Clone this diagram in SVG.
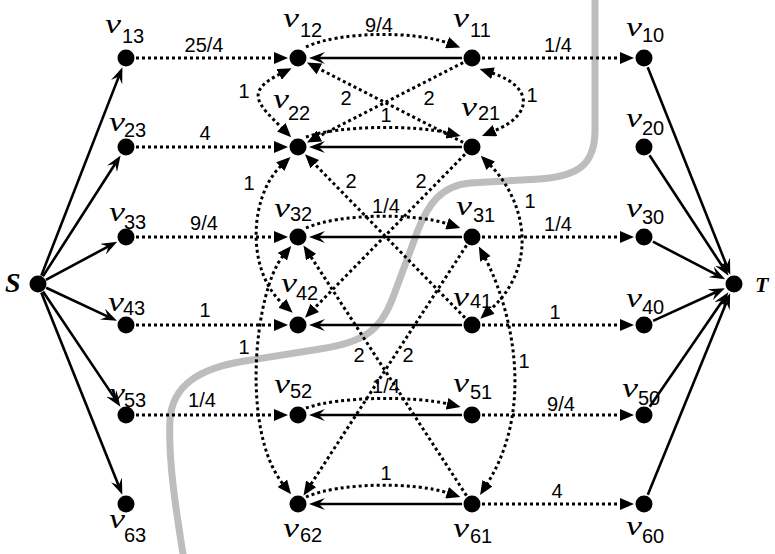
<svg xmlns="http://www.w3.org/2000/svg" width="775" height="554" viewBox="0 0 775 554">
<defs>
<style>
.dot{stroke:#000;stroke-width:3;stroke-dasharray:3 3;fill:none}
.sol{stroke:#000;stroke-width:2.6;fill:none}
.lbl{font-family:"Liberation Sans",Arial,sans-serif;font-size:20px;text-anchor:middle;fill:#000}
.v{font-family:"Liberation Serif","Times New Roman",serif;font-style:italic;font-size:28px}
.sub{font-family:"Liberation Sans",Arial,sans-serif;font-size:20px}
.big{font-family:"Liberation Serif","Times New Roman",serif;font-style:italic;font-weight:bold}
.cut{stroke:#bdbdbd;stroke-width:7;fill:none;stroke-linecap:round}
circle{fill:#000}
</style>
<marker id="tri" viewBox="0 0 14 12" refX="1" refY="6" markerWidth="14" markerHeight="12" markerUnits="userSpaceOnUse" orient="auto-start-reverse"><path d="M0,0 L14,6 L0,12 z"/></marker>
<marker id="barb" viewBox="0 0 16 12" refX="6" refY="6" markerWidth="16" markerHeight="12" markerUnits="userSpaceOnUse" orient="auto"><path d="M0,0 L16,6 L0,12 L6,6 z"/></marker>
</defs>
<rect width="775" height="554" fill="#fff"/>

<path class="cut" d="M595,0 L595,130 C595,165 578,176 540,179 L470,183 C440,186 428,205 418,230 L392,300 C380,330 365,342 320,349 L245,361 C200,368 172,385 170,420 C168,460 176,510 183,554"/>

<g id="connectors">
<line class="sol" x1="41.3" y1="275.6" x2="118.8" y2="76.6" marker-end="url(#barb)"/>
<line class="sol" x1="42.9" y1="276.4" x2="115.2" y2="163.8" marker-end="url(#barb)"/>
<line class="sol" x1="45.9" y1="279.8" x2="108.4" y2="246.4" marker-end="url(#barb)"/>
<line class="sol" x1="46.2" y1="287.8" x2="107.9" y2="316.6" marker-end="url(#barb)"/>
<line class="sol" x1="43.0" y1="291.5" x2="114.8" y2="398.4" marker-end="url(#barb)"/>
<line class="sol" x1="41.3" y1="292.4" x2="118.6" y2="485.4" marker-end="url(#barb)"/>
<line class="sol" x1="647.7" y1="67.3" x2="726.6" y2="265.4" marker-end="url(#barb)"/>
<line class="sol" x1="649.5" y1="155.3" x2="723.0" y2="267.3" marker-end="url(#barb)"/>
<line class="sol" x1="652.9" y1="241.6" x2="716.3" y2="274.7" marker-end="url(#barb)"/>
<line class="sol" x1="653.1" y1="320.9" x2="715.8" y2="292.3" marker-end="url(#barb)"/>
<line class="sol" x1="649.7" y1="406.8" x2="722.7" y2="300.5" marker-end="url(#barb)"/>
<line class="sol" x1="647.8" y1="494.7" x2="726.4" y2="302.5" marker-end="url(#barb)"/>
<line class="dot" x1="136" y1="58" x2="275" y2="58" marker-end="url(#tri)"/>
<line class="dot" x1="136" y1="147" x2="275" y2="147" marker-end="url(#tri)"/>
<line class="dot" x1="136" y1="237" x2="275" y2="237" marker-end="url(#tri)"/>
<line class="dot" x1="136" y1="325" x2="275" y2="325" marker-end="url(#tri)"/>
<line class="dot" x1="136" y1="415" x2="275" y2="415" marker-end="url(#tri)"/>
<line class="dot" x1="482" y1="58" x2="621" y2="58" marker-end="url(#tri)"/>
<line class="dot" x1="482" y1="237" x2="621" y2="237" marker-end="url(#tri)"/>
<line class="dot" x1="482" y1="325" x2="621" y2="325" marker-end="url(#tri)"/>
<line class="dot" x1="482" y1="415" x2="621" y2="415" marker-end="url(#tri)"/>
<line class="dot" x1="482" y1="504" x2="621" y2="504" marker-end="url(#tri)"/>
<line class="sol" x1="462" y1="58" x2="319" y2="58" marker-end="url(#barb)"/>
<line class="sol" x1="462" y1="147" x2="319" y2="147" marker-end="url(#barb)"/>
<line class="sol" x1="462" y1="237" x2="319" y2="237" marker-end="url(#barb)"/>
<line class="sol" x1="462" y1="325" x2="319" y2="325" marker-end="url(#barb)"/>
<line class="sol" x1="462" y1="415" x2="319" y2="415" marker-end="url(#barb)"/>
<line class="sol" x1="462" y1="504" x2="319" y2="504" marker-end="url(#barb)"/>
<path class="dot" d="M306,47 C340,31 415,31 448,43" marker-end="url(#tri)"/>
<path class="dot" d="M306,137 C340,125 415,125 448,133" marker-end="url(#tri)"/>
<path class="dot" d="M306,228 C340,213 415,213 448,224" marker-end="url(#tri)"/>
<path class="dot" d="M306,408 C340,396 415,396 448,404" marker-end="url(#tri)"/>
<path class="dot" d="M306,497 C340,482 415,482 448,493" marker-end="url(#tri)"/>
<line class="dot" x1="463.1" y1="142.4" x2="318.5" y2="68.5" marker-end="url(#tri)"/>
<line class="dot" x1="463.1" y1="62.6" x2="318.5" y2="136.5" marker-end="url(#tri)"/>
<line class="dot" x1="465.0" y1="317.8" x2="314.1" y2="163.5" marker-end="url(#tri)"/>
<line class="dot" x1="465.0" y1="154.2" x2="314.1" y2="308.5" marker-end="url(#tri)"/>
<line class="dot" x1="466.5" y1="495.6" x2="310.6" y2="256.3" marker-end="url(#tri)"/>
<line class="dot" x1="466.5" y1="245.4" x2="310.6" y2="484.7" marker-end="url(#tri)"/>
<path class="dot" d="M280,74 C244,92 258,104 282,128" marker-start="url(#tri)" marker-end="url(#tri)"/>
<path class="dot" d="M281,166 C250,195 245,270 283,304" marker-start="url(#tri)" marker-end="url(#tri)"/>
<path class="dot" d="M283,256 C255,290 240,430 283,484" marker-start="url(#tri)" marker-end="url(#tri)"/>
<path class="dot" d="M492,73 C532,86 535,114 494,131" marker-start="url(#tri)" marker-end="url(#tri)"/>
<path class="dot" d="M490,165 C525,200 540,265 490,310" marker-start="url(#tri)" marker-end="url(#tri)"/>
<path class="dot" d="M485,258 C505,295 540,400 487,484" marker-start="url(#tri)" marker-end="url(#tri)"/>
<text class="lbl" x="204" y="52">25/4</text>
<text class="lbl" x="205" y="140">4</text>
<text class="lbl" x="204" y="230">9/4</text>
<text class="lbl" x="205" y="317">1</text>
<text class="lbl" x="202" y="407">1/4</text>
<text class="lbl" x="558" y="52">1/4</text>
<text class="lbl" x="558" y="231">1/4</text>
<text class="lbl" x="555" y="319">1</text>
<text class="lbl" x="561" y="411">9/4</text>
<text class="lbl" x="557" y="498">4</text>
<text class="lbl" x="379" y="32">9/4</text>
<text class="lbl" x="386" y="122">1</text>
<text class="lbl" x="386" y="213">1/4</text>
<text class="lbl" x="386" y="393">1/4</text>
<text class="lbl" x="386" y="480">1</text>
<text class="lbl" x="346" y="105">2</text>
<text class="lbl" x="429" y="105">2</text>
<text class="lbl" x="351" y="188">2</text>
<text class="lbl" x="421" y="188">2</text>
<text class="lbl" x="359" y="362">2</text>
<text class="lbl" x="408" y="362">2</text>
<text class="lbl" x="244" y="98">1</text>
<text class="lbl" x="249" y="190">1</text>
<text class="lbl" x="244" y="354">1</text>
<text class="lbl" x="532" y="102">1</text>
<text class="lbl" x="530" y="208">1</text>
<text class="lbl" x="524" y="368">1</text>
</g>

<g id="S"><circle cx="38" cy="284" r="8.5"/><text class="big" x="5" y="292" font-size="28">S</text></g>
<g id="T"><circle cx="734" cy="284" r="8.5"/><text class="big" x="755" y="292" font-size="22">T</text></g>

<g id="v13"><circle cx="126" cy="58" r="8.5"/><text class="v" x="105" y="33" textLength="16" lengthAdjust="spacingAndGlyphs">v</text><text class="sub" x="122" y="43">13</text></g>
<g id="v23"><circle cx="126" cy="147" r="8.5"/><text class="v" x="109" y="131" textLength="16" lengthAdjust="spacingAndGlyphs">v</text><text class="sub" x="124" y="137">23</text></g>
<g id="v33"><circle cx="126" cy="237" r="8.5"/><text class="v" x="109" y="221" textLength="16" lengthAdjust="spacingAndGlyphs">v</text><text class="sub" x="124" y="229">33</text></g>
<g id="v43"><circle cx="126" cy="325" r="8.5"/><text class="v" x="108" y="311" textLength="16" lengthAdjust="spacingAndGlyphs">v</text><text class="sub" x="123" y="315">43</text></g>
<g id="v53"><circle cx="126" cy="415" r="8.5"/><text class="v" x="109" y="402" textLength="16" lengthAdjust="spacingAndGlyphs">v</text><text class="sub" x="124" y="407">53</text></g>
<g id="v63"><circle cx="126" cy="504" r="8.5"/><text class="v" x="109" y="528" textLength="16" lengthAdjust="spacingAndGlyphs">v</text><text class="sub" x="124" y="542">63</text></g>

<g id="v12"><circle cx="298" cy="58" r="8.5"/><text class="v" x="283" y="27" textLength="16" lengthAdjust="spacingAndGlyphs">v</text><text class="sub" x="300" y="37">12</text></g>
<g id="v22"><circle cx="298" cy="147" r="8.5"/><text class="v" x="273" y="108" textLength="16" lengthAdjust="spacingAndGlyphs">v</text><text class="sub" x="288" y="120">22</text></g>
<g id="v32"><circle cx="298" cy="237" r="8.5"/><text class="v" x="274" y="217" textLength="16" lengthAdjust="spacingAndGlyphs">v</text><text class="sub" x="290" y="221">32</text></g>
<g id="v42"><circle cx="298" cy="325" r="8.5"/><text class="v" x="281" y="292" textLength="16" lengthAdjust="spacingAndGlyphs">v</text><text class="sub" x="296" y="300">42</text></g>
<g id="v52"><circle cx="298" cy="415" r="8.5"/><text class="v" x="274" y="393" textLength="16" lengthAdjust="spacingAndGlyphs">v</text><text class="sub" x="290" y="398">52</text></g>
<g id="v62"><circle cx="298" cy="504" r="8.5"/><text class="v" x="283" y="537" textLength="16" lengthAdjust="spacingAndGlyphs">v</text><text class="sub" x="300" y="542">62</text></g>

<g id="v11"><circle cx="472" cy="58" r="8.5"/><text class="v" x="453" y="27" textLength="16" lengthAdjust="spacingAndGlyphs">v</text><text class="sub" x="470" y="37">11</text></g>
<g id="v21"><circle cx="472" cy="147" r="8.5"/><text class="v" x="461" y="116" textLength="16" lengthAdjust="spacingAndGlyphs">v</text><text class="sub" x="478" y="120">21</text></g>
<g id="v31"><circle cx="472" cy="237" r="8.5"/><text class="v" x="456" y="215" textLength="16" lengthAdjust="spacingAndGlyphs">v</text><text class="sub" x="473" y="222">31</text></g>
<g id="v41"><circle cx="472" cy="325" r="8.5"/><text class="v" x="453" y="306" textLength="16" lengthAdjust="spacingAndGlyphs">v</text><text class="sub" x="470" y="308">41</text></g>
<g id="v51"><circle cx="472" cy="415" r="8.5"/><text class="v" x="453" y="392" textLength="16" lengthAdjust="spacingAndGlyphs">v</text><text class="sub" x="470" y="399">51</text></g>
<g id="v61"><circle cx="472" cy="504" r="8.5"/><text class="v" x="453" y="537" textLength="16" lengthAdjust="spacingAndGlyphs">v</text><text class="sub" x="470" y="543">61</text></g>

<g id="v10"><circle cx="644" cy="58" r="8.5"/><text class="v" x="626" y="36" textLength="16" lengthAdjust="spacingAndGlyphs">v</text><text class="sub" x="642" y="42">10</text></g>
<g id="v20"><circle cx="644" cy="147" r="8.5"/><text class="v" x="626" y="127" textLength="16" lengthAdjust="spacingAndGlyphs">v</text><text class="sub" x="642" y="135">20</text></g>
<g id="v30"><circle cx="644" cy="237" r="8.5"/><text class="v" x="626" y="217" textLength="16" lengthAdjust="spacingAndGlyphs">v</text><text class="sub" x="642" y="224">30</text></g>
<g id="v40"><circle cx="644" cy="325" r="8.5"/><text class="v" x="626" y="307" textLength="16" lengthAdjust="spacingAndGlyphs">v</text><text class="sub" x="642" y="314">40</text></g>
<g id="v50"><circle cx="644" cy="415" r="8.5"/><text class="v" x="622" y="397" textLength="16" lengthAdjust="spacingAndGlyphs">v</text><text class="sub" x="638" y="405">50</text></g>
<g id="v60"><circle cx="644" cy="504" r="8.5"/><text class="v" x="626" y="535" textLength="16" lengthAdjust="spacingAndGlyphs">v</text><text class="sub" x="642" y="543">60</text></g>
</svg>
